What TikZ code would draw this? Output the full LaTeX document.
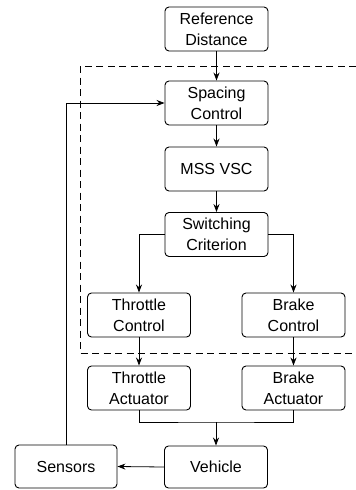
\documentclass[tikz,border=0pt]{standalone}
\usepackage{fontspec}
\setmainfont{Liberation Sans}
\usetikzlibrary{arrows.meta,calc}
\begin{document}
\begin{tikzpicture}[x=1pt,y=-1pt,
  blk/.style={draw,line width=0.9pt,rounded corners=4pt,minimum width=103pt,minimum height=44pt,align=center,inner sep=1pt,font=\fontsize{16}{21}\selectfont},
  conn/.style={line width=0.8pt,-{Stealth[length=8pt,width=6pt]}},
  plainline/.style={line width=0.8pt},
  dashline/.style={line width=0.9pt,dash pattern=on 7pt off 4.5pt}]
\useasboundingbox (0,0) rectangle (356,490);
\node[blk] (ref) at (216.5,29) {Reference\\Distance};
\node[blk] (sp) at (216.5,103) {Spacing\\Control};
\node[blk] (mss) at (216.5,169) {MSS VSC};
\node[blk] (sw) at (216.5,234.5) {Switching\\Criterion};
\node[blk] (tc) at (139,315) {Throttle\\Control};
\node[blk] (bc) at (293.5,315) {Brake\\Control};
\node[blk] (ta) at (139,388) {Throttle\\Actuator};
\node[blk] (ba) at (293.5,388) {Brake\\Actuator};
\node[blk,minimum height=42pt] (veh) at (216,467) {Vehicle};
\node[blk,minimum width=102pt,minimum height=43pt] (sen) at (66,466.5) {Sensors};
\coordinate (dtr) at (356,66);
\coordinate (dtl) at (80,66);
\coordinate (dbl) at (80,353);
\coordinate (dbr) at (356,353);
\draw[dashline] (dtr) -- (dtl) -- (dbl) -- (dbr);
\draw[conn] (ref) -- (sp);
\draw[conn] (sp) -- (mss);
\draw[conn] (mss) -- (sw);
\draw[conn] (sw.west) -| (tc.north);
\draw[conn] (sw.east) -| (bc.north);
\draw[conn] (tc) -- (ta);
\draw[conn] (bc) -- (ba);
\coordinate (mg) at (216,422);
\draw[plainline] (ta.south) |- (mg) -| (ba.south);
\draw[conn] (mg) -- (veh.north);
\draw[conn] (veh.west) -- (sen.east);
\draw[conn] (sen.north) |- (sp.west);
\end{tikzpicture}
\end{document}
